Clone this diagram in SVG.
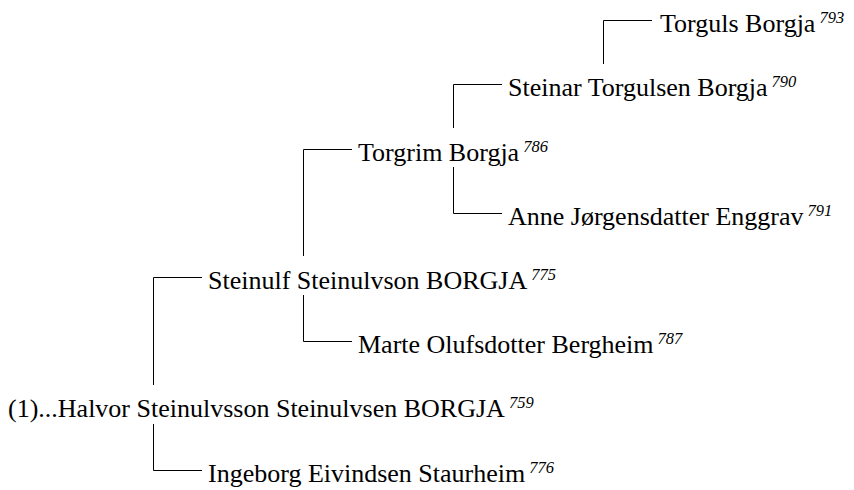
<svg xmlns="http://www.w3.org/2000/svg" width="854" height="490" viewBox="0 0 854 490">
<style>
.t{font-family:"Liberation Serif","Times New Roman",serif;font-size:26px;fill:#000}
.s{font-size:16.5px;font-style:italic}
.c{stroke:#000;stroke-width:1;fill:none}
</style>
<rect width="854" height="490" fill="#fff"/>
<g id="connectors">
<path class="c" d="M153.5,385 V277.5 H202"/>
<path class="c" d="M153.5,424 V470.5 H202"/>
<path class="c" d="M303.5,256 V149.5 H352"/>
<path class="c" d="M303.5,295 V341.5 H352"/>
<path class="c" d="M453.5,128 V84.5 H502"/>
<path class="c" d="M453.5,167 V213.5 H502"/>
<path class="c" d="M603.5,64 V20.5 H652"/>
</g>
<g id="n759"><text class="t" x="8" y="417">(1)...Halvor Steinulvsson Steinulvsen BORGJA<tspan class="s" dx="4" dy="-9">759</tspan></text></g>
<g id="n775"><text class="t" x="208" y="288.5">Steinulf Steinulvson BORGJA<tspan class="s" dx="4" dy="-9">775</tspan></text></g>
<g id="n776"><text class="t" x="208" y="481.5">Ingeborg Eivindsen Staurheim<tspan class="s" dx="4" dy="-9">776</tspan></text></g>
<g id="n786"><text class="t" x="358" y="160.5">Torgrim Borgja<tspan class="s" dx="4" dy="-9">786</tspan></text></g>
<g id="n787"><text class="t" x="358" y="352.5">Marte Olufsdotter Bergheim<tspan class="s" dx="4" dy="-9">787</tspan></text></g>
<g id="n790"><text class="t" x="508" y="95.5">Steinar Torgulsen Borgja<tspan class="s" dx="4" dy="-9">790</tspan></text></g>
<g id="n791"><text class="t" x="508" y="224.5">Anne Jørgensdatter Enggrav<tspan class="s" dx="4" dy="-9">791</tspan></text></g>
<g id="n793"><text class="t" x="660" y="31.5">Torguls Borgja<tspan class="s" dx="4" dy="-9">793</tspan></text></g>
</svg>
